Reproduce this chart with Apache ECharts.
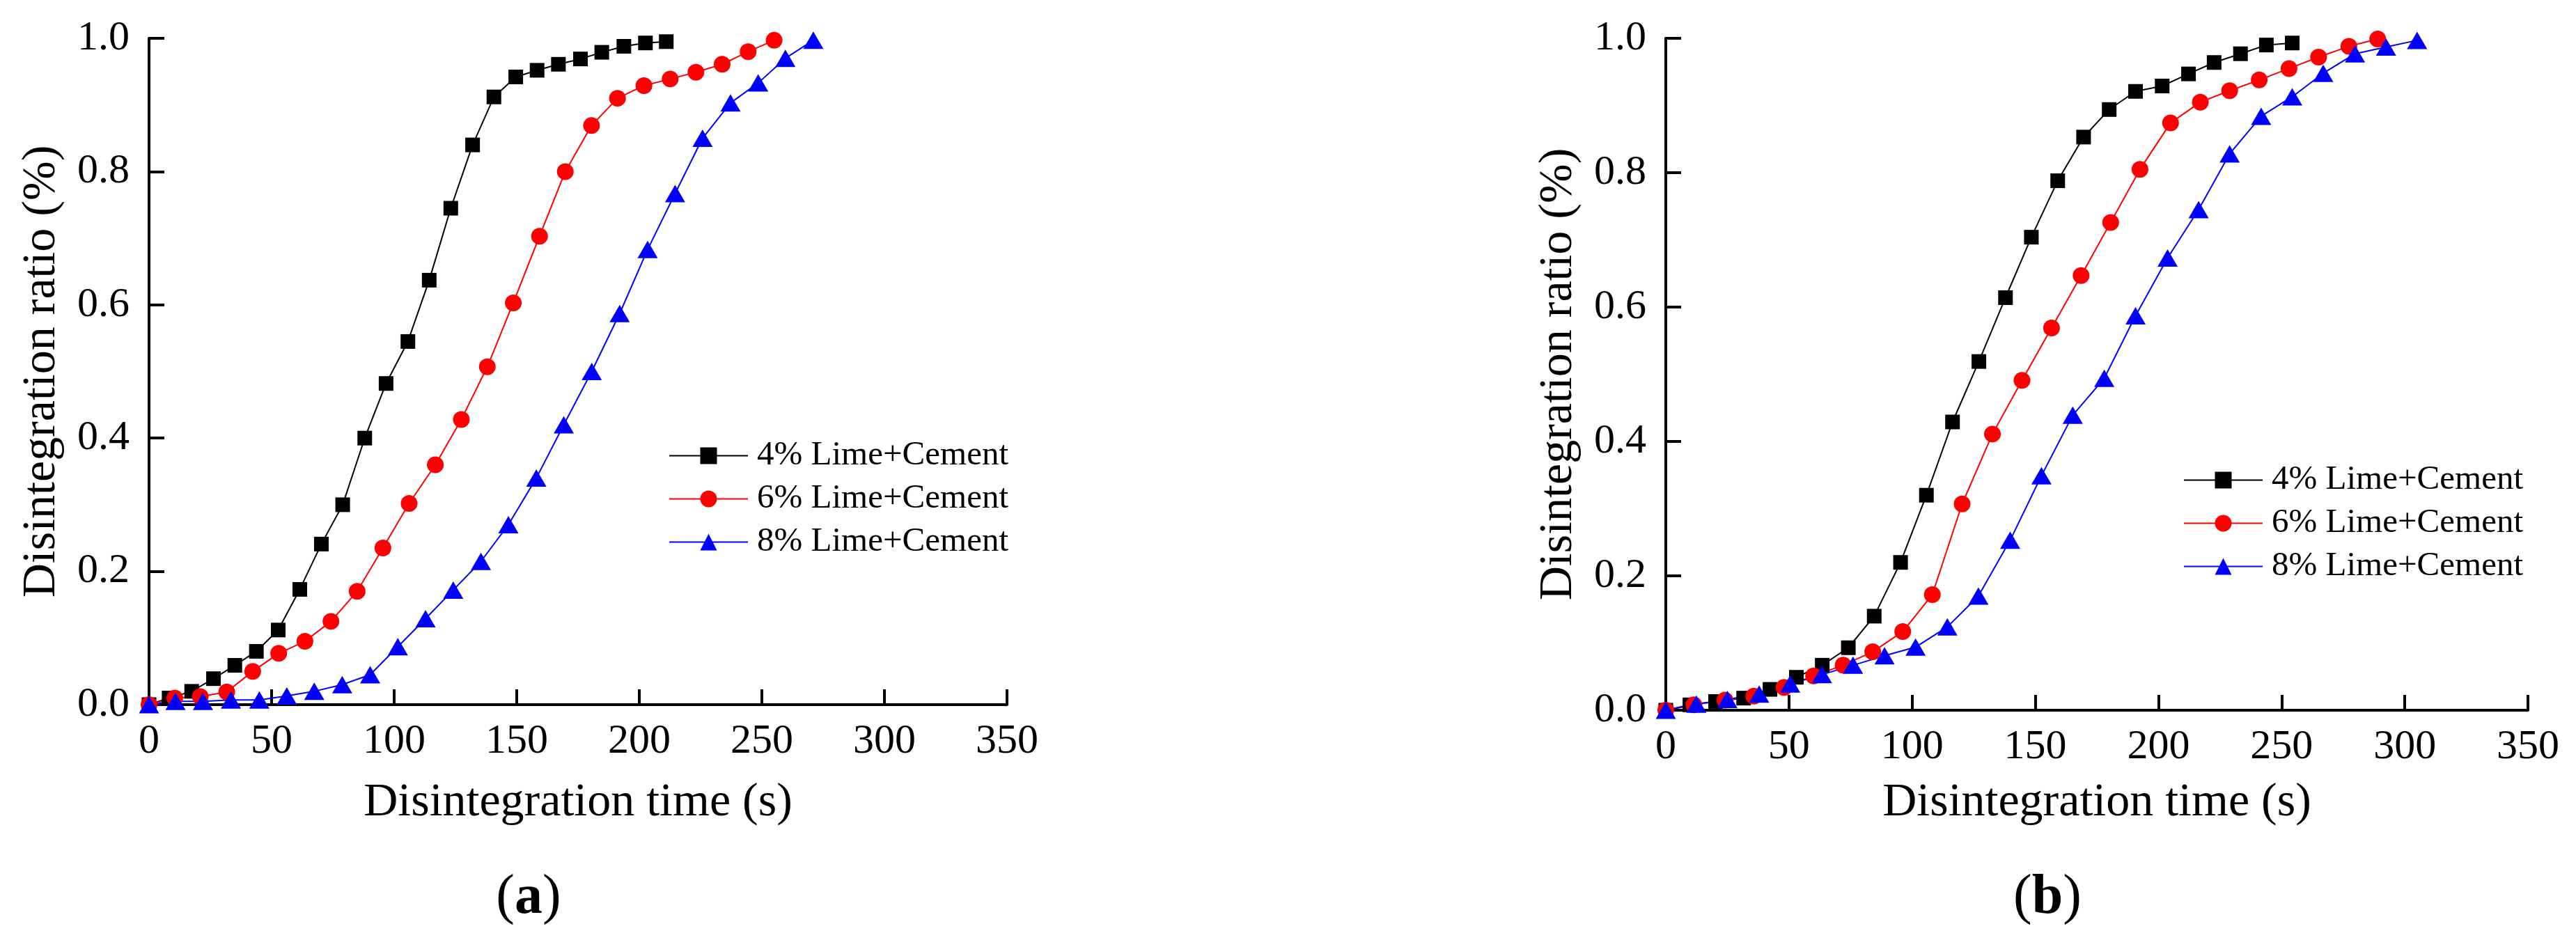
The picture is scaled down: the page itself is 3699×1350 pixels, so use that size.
<!DOCTYPE html>
<html>
<head>
<meta charset="utf-8">
<script src="https://cdn.jsdelivr.net/npm/echarts@6/dist/echarts.min.js"></script>
<style>
html,body{margin:0;padding:0;background:#fff;}
#chart{width:3699px;height:1350px;}
</style>
</head>
<body>
<div id="chart"></div>
<script>
// ---- Data ----
var seriesNames = ['4% Lime+Cement', '6% Lime+Cement', '8% Lime+Cement'];
var xTicks = [0, 50, 100, 150, 200, 250, 300, 350];
var yTicks = ['0.0', '0.2', '0.4', '0.6', '0.8', '1.0'];

// Panel (a)
var timeA4 = [0, 8.2, 17.4, 26.3, 35, 43.8, 52.7, 61.5, 70.3, 79, 88, 96.7, 105.6, 114.3, 123.1, 132, 140.7, 149.6, 158.3, 167, 176, 184.7, 193.7, 202.5, 211];
var ratioA4 = [0, 0.01, 0.02, 0.039, 0.059, 0.08, 0.112, 0.173, 0.241, 0.30, 0.40, 0.482, 0.545, 0.637, 0.745, 0.84, 0.912, 0.942, 0.952, 0.961, 0.969, 0.979, 0.988, 0.993, 0.995];
var timeA6 = [0, 10.5, 20.9, 31.7, 42.3, 52.9, 63.6, 74.2, 84.9, 95.4, 106.1, 116.8, 127.4, 138, 148.6, 159.3, 169.8, 180.5, 191.1, 201.9, 212.6, 223.1, 233.8, 244.4, 255];
var ratioA6 = [0, 0.01, 0.012, 0.019, 0.05, 0.077, 0.095, 0.125, 0.17, 0.235, 0.302, 0.36, 0.428, 0.507, 0.603, 0.703, 0.80, 0.869, 0.91, 0.929, 0.939, 0.949, 0.961, 0.98, 0.997];
var timeA8 = [0, 10.8, 22, 33.4, 45, 56.2, 67.4, 78.8, 90.2, 101.5, 112.8, 124.1, 135.4, 146.6, 158, 169.2, 180.6, 192, 203.4, 214.6, 225.8, 237.2, 248.5, 259.6, 271];
var ratioA8 = [0, 0.005, 0.005, 0.007, 0.007, 0.013, 0.02, 0.03, 0.045, 0.087, 0.129, 0.172, 0.215, 0.27, 0.34, 0.42, 0.50, 0.587, 0.683, 0.767, 0.85, 0.903, 0.933, 0.97, 0.997];

// Panel (b)
var timeB4 = [0, 9.8, 20.2, 31.6, 42.3, 53, 63.5, 74.1, 84.6, 95.3, 105.8, 116.4, 127.1, 137.9, 148.4, 159.1, 169.6, 180, 190.7, 201.5, 212.2, 222.6, 233.3, 243.8, 254.3];
var ratioB4 = [0, 0.008, 0.013, 0.018, 0.031, 0.049, 0.067, 0.093, 0.14, 0.22, 0.32, 0.429, 0.519, 0.614, 0.704, 0.788, 0.853, 0.894, 0.921, 0.929, 0.947, 0.964, 0.977, 0.99, 0.993];
var timeB6 = [0, 11.4, 24, 35.7, 48, 60, 72, 84, 96.2, 108.2, 120.3, 132.6, 144.6, 156.6, 168.6, 180.6, 192.5, 204.9, 217, 228.9, 240.9, 253, 265, 277.3, 289];
var ratioB6 = [0, 0.008, 0.015, 0.021, 0.034, 0.051, 0.067, 0.087, 0.117, 0.172, 0.307, 0.411, 0.491, 0.569, 0.647, 0.726, 0.805, 0.874, 0.905, 0.922, 0.938, 0.955, 0.972, 0.988, 0.999];
var timeB8 = [0, 12.4, 25, 37.9, 50.5, 63.4, 76, 88.8, 101.4, 114.3, 126.9, 139.8, 152.5, 165.2, 178, 190.7, 203.7, 216.3, 228.9, 241.7, 254.3, 266.9, 279.8, 292.4, 305];
var ratioB8 = [0, 0.009, 0.016, 0.024, 0.039, 0.053, 0.067, 0.081, 0.094, 0.124, 0.17, 0.253, 0.349, 0.439, 0.494, 0.587, 0.673, 0.745, 0.828, 0.884, 0.913, 0.948, 0.977, 0.987, 0.997];

var xTitle = 'Disintegration time (s)';
var yTitle = 'Disintegration ratio (%)';
var panelLabels = ['a', 'b'];

// ---- Build chart ----
var FONT = "'Liberation Serif', 'Times New Roman', serif";
function pairs(xs, ys) { return xs.map(function (x, i) { return [x, ys[i]]; }); }

var styles = [
  { color: '#000000', symbol: 'rect', symbolSize: 21 },
  { color: '#ff0000', symbol: 'circle', symbolSize: 24 },
  { color: '#0000ff', symbol: 'triangle', symbolSize: [29, 25] }
];

function xAxis(gi, gap) {
  return {
    gridIndex: gi, type: 'value', min: xTicks[0], max: xTicks[xTicks.length - 1], interval: xTicks[1] - xTicks[0],
    axisLine: { show: true, onZero: false, lineStyle: { color: '#000', width: 4 } },
    axisTick: { show: true, inside: true, length: 22, lineStyle: { color: '#000', width: 4 } },
    axisLabel: { margin: 23, fontSize: 60, fontFamily: FONT, color: '#000' },
    splitLine: { show: false },
    name: xTitle, nameLocation: 'middle', nameGap: gap,
    nameTextStyle: { fontSize: 68, fontFamily: FONT, color: '#000' }
  };
}
function yAxis(gi) {
  return {
    gridIndex: gi, type: 'value', min: 0, max: 1, interval: 0.2,
    axisLine: { show: true, onZero: false, lineStyle: { color: '#000', width: 4 } },
    axisTick: { show: true, inside: true, length: 22, lineStyle: { color: '#000', width: 4 } },
    axisLabel: { margin: 28, fontSize: 60, fontFamily: FONT, color: '#000',
      formatter: function (v) { return yTicks[Math.round(v / 0.2)]; } },
    splitLine: { show: false },
    name: yTitle, nameLocation: 'middle', nameGap: 120, nameRotate: 90,
    nameTextStyle: { fontSize: 68, fontFamily: FONT, color: '#000' }
  };
}

var dataA = [pairs(timeA4, ratioA4), pairs(timeA6, ratioA6), pairs(timeA8, ratioA8)];
var dataB = [pairs(timeB4, ratioB4), pairs(timeB6, ratioB6), pairs(timeB8, ratioB8)];

var series = [];
[dataA, dataB].forEach(function (set, gi) {
  set.forEach(function (d, k) {
    series.push({
      name: seriesNames[k], type: 'line', xAxisIndex: gi, yAxisIndex: gi,
      data: d, symbol: styles[k].symbol, symbolSize: styles[k].symbolSize,
      showAllSymbol: true, animation: false,
      lineStyle: { color: styles[k].color, width: 2 },
      itemStyle: { color: styles[k].color, borderWidth: 0 }
    });
  });
});

function legend(left, top) {
  return {
    data: seriesNames, left: left, top: top, orient: 'vertical', padding: 0,
    itemWidth: 113, itemHeight: 30, itemGap: 13, selectedMode: false,
    textStyle: { fontSize: 49, lineHeight: 49, fontFamily: FONT, color: '#000', padding: [0, 0, 0, 8] }
  };
}

function caption(x, y, letter) {
  return {
    type: 'text', x: x, y: y,
    style: {
      text: '{p|(}{b|' + letter + '}{p|)}',
      align: 'center', verticalAlign: 'middle', fill: '#000',
      fontSize: 80, fontFamily: FONT,
      rich: {
        p: { fontSize: 80, fontFamily: FONT, fill: '#000' },
        b: { fontSize: 80, fontFamily: FONT, fontWeight: 'bold', fill: '#000' }
      }
    }
  };
}

var option = {
  backgroundColor: '#ffffff',
  animation: false,
  grid: [
    { left: 214, top: 55, width: 1232, height: 957 },
    { left: 2392, top: 55, width: 1238, height: 965 }
  ],
  xAxis: [xAxis(0, 107), xAxis(1, 99)],
  yAxis: [yAxis(0), yAxis(1)],
  legend: [legend(960, 630), legend(3135, 665)],
  series: series,
  graphic: [caption(759, 1290, panelLabels[0]), caption(2940, 1290, panelLabels[1])]
};

var chart = echarts.init(document.getElementById('chart'), null, { renderer: 'canvas' });
chart.setOption(option);
</script>
</body>
</html>
